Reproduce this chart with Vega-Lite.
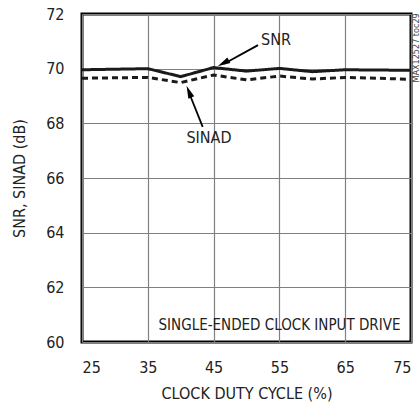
{
  "$schema": "https://vega.github.io/schema/vega-lite/v6.json",
  "width": 329,
  "height": 328,
  "autosize": {"type": "none"},
  "padding": {"left": 82, "top": 14, "right": 9, "bottom": 62},
  "background": "white",
  "config": {
    "font": "DejaVu Sans Condensed, Liberation Sans, sans-serif",
    "view": {"stroke": "black", "strokeWidth": 3},
    "axis": {
      "grid": true,
      "gridColor": "#808080",
      "gridWidth": 1.2,
      "gridOpacity": 1,
      "ticks": false,
      "domain": false,
      "labelFont": "DejaVu Sans Condensed, Liberation Sans, sans-serif",
      "titleFont": "DejaVu Sans Condensed, Liberation Sans, sans-serif",
      "labelFontSize": 16,
      "titleFontSize": 16,
      "labelColor": "#222",
      "titleColor": "#222",
      "titleFontWeight": "normal"
    }
  },
  "datasets": {
    "curves": [
      {"duty": 25, "db": 69.96, "series": "SNR"},
      {"duty": 35, "db": 70.0, "series": "SNR"},
      {"duty": 40, "db": 69.71, "series": "SNR"},
      {"duty": 45, "db": 70.04, "series": "SNR"},
      {"duty": 50, "db": 69.91, "series": "SNR"},
      {"duty": 55, "db": 70.01, "series": "SNR"},
      {"duty": 60, "db": 69.89, "series": "SNR"},
      {"duty": 65, "db": 69.96, "series": "SNR"},
      {"duty": 70, "db": 69.95, "series": "SNR"},
      {"duty": 75, "db": 69.94, "series": "SNR"},
      {"duty": 25, "db": 69.65, "series": "SINAD"},
      {"duty": 35, "db": 69.68, "series": "SINAD"},
      {"duty": 40, "db": 69.49, "series": "SINAD"},
      {"duty": 45, "db": 69.77, "series": "SINAD"},
      {"duty": 50, "db": 69.59, "series": "SINAD"},
      {"duty": 55, "db": 69.73, "series": "SINAD"},
      {"duty": 60, "db": 69.62, "series": "SINAD"},
      {"duty": 65, "db": 69.68, "series": "SINAD"},
      {"duty": 70, "db": 69.65, "series": "SINAD"},
      {"duty": 75, "db": 69.61, "series": "SINAD"}
    ],
    "arrows": [
      {"name": "SNR", "x1": 51.75, "y1": 70.86, "x2": 46.6, "y2": 70.18},
      {"name": "SINAD", "x1": 43.34, "y1": 67.87, "x2": 41.3, "y2": 69.1}
    ],
    "heads": [
      {"name": "SNR", "hx": 46.47, "hy": 70.2},
      {"name": "SINAD", "hx": 41.25, "hy": 69.16}
    ],
    "labels": [
      {"text": "SNR", "lx": 54.48, "ly": 71.05},
      {"text": "SINAD", "lx": 44.3, "ly": 67.46}
    ]
  },
  "layer": [
    {
      "data": {"name": "curves"},
      "mark": {"type": "line", "strokeWidth": 3},
      "encoding": {
        "x": {
          "field": "duty", "type": "quantitative",
          "scale": {"domain": [25, 75], "nice": false, "zero": false},
          "axis": {"values": [25, 35, 45, 55, 65, 75], "title": "CLOCK DUTY CYCLE (%)", "labelPadding": 17, "titlePadding": 10}
        },
        "y": {
          "field": "db", "type": "quantitative",
          "scale": {"domain": [60, 72], "nice": false, "zero": false},
          "axis": {"values": [60, 62, 64, 66, 68, 70, 72], "title": "SNR, SINAD (dB)", "labelPadding": 18, "titlePadding": 18}
        },
        "color": {"field": "series", "type": "nominal", "scale": {"domain": ["SNR", "SINAD"], "range": ["#1a1a1a", "#1a1a1a"]}, "legend": null},
        "strokeDash": {"field": "series", "type": "nominal", "scale": {"domain": ["SNR", "SINAD"], "range": [[1, 0], [6, 4]]}, "legend": null}
      }
    },
    {
      "data": {"name": "arrows"},
      "mark": {"type": "rule", "strokeWidth": 1.8, "color": "black"},
      "encoding": {
        "x": {"field": "x1", "type": "quantitative"},
        "y": {"field": "y1", "type": "quantitative"},
        "x2": {"field": "x2"},
        "y2": {"field": "y2"}
      }
    },
    {
      "data": {"name": "heads"},
      "transform": [{"filter": "datum.name === 'SNR'"}],
      "mark": {"type": "point", "shape": "M0,-1L0.5,1L-0.5,1Z", "filled": true, "color": "black", "opacity": 1, "size": 160, "angle": 242},
      "encoding": {
        "x": {"field": "hx", "type": "quantitative"},
        "y": {"field": "hy", "type": "quantitative"}
      }
    },
    {
      "data": {"name": "heads"},
      "transform": [{"filter": "datum.name === 'SINAD'"}],
      "mark": {"type": "point", "shape": "M0,-1L0.5,1L-0.5,1Z", "filled": true, "color": "black", "opacity": 1, "size": 160, "angle": 338},
      "encoding": {
        "x": {"field": "hx", "type": "quantitative"},
        "y": {"field": "hy", "type": "quantitative"}
      }
    },
    {
      "data": {"name": "labels"},
      "mark": {"type": "text", "fontSize": 16, "color": "#222", "align": "center", "baseline": "middle"},
      "encoding": {
        "x": {"field": "lx", "type": "quantitative"},
        "y": {"field": "ly", "type": "quantitative"},
        "text": {"field": "text"}
      }
    },
    {
      "data": {"values": [{"t": "SINGLE-ENDED CLOCK INPUT DRIVE", "tx": 73.4, "ty": 60.62}]},
      "mark": {"type": "text", "fontSize": 15, "color": "#222", "align": "right", "baseline": "middle"},
      "encoding": {
        "x": {"field": "tx", "type": "quantitative"},
        "y": {"field": "ty", "type": "quantitative"},
        "text": {"field": "t"}
      }
    },
    {
      "data": {"values": [{"t": "MAX12527 toc29", "tx": 75.76, "ty": 70.76}]},
      "mark": {"type": "text", "fontSize": 9, "color": "#444", "align": "center", "baseline": "middle", "angle": 270},
      "encoding": {
        "x": {"field": "tx", "type": "quantitative"},
        "y": {"field": "ty", "type": "quantitative"},
        "text": {"field": "t"}
      }
    }
  ]
}
